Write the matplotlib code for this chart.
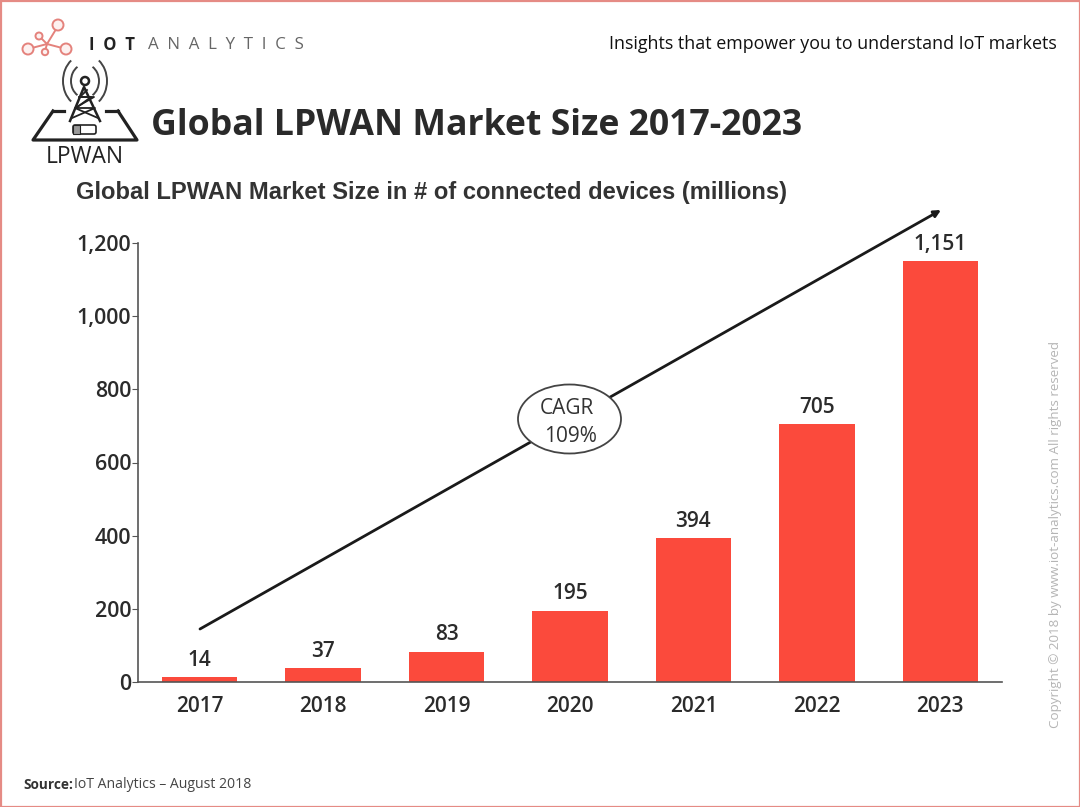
import matplotlib
matplotlib.use('Agg')
import matplotlib.pyplot as plt
from matplotlib.patches import Circle, Ellipse, Arc, Rectangle, FancyBboxPatch

years = ['2017', '2018', '2019', '2020', '2021', '2022', '2023']
devices = [14, 37, 83, 195, 394, 705, 1151]
value_labels = ['14', '37', '83', '195', '394', '705', '1,151']
y_ticks = [0, 200, 400, 600, 800, 1000, 1200]
y_tick_labels = ['0', '200', '400', '600', '800', '1,000', '1,200']

W, H = 1080, 807
RED = '#FB4A3C'
DARK = '#2b2b2b'

fig = plt.figure(figsize=(W / 100, H / 100), dpi=100, facecolor='white')

# chart axes, placed in pixel positions of the picture
ax = fig.add_axes([138 / W, 1 - 682 / H, (1002 - 138) / W, (682 - 243) / H])
ax.bar(range(len(years)), devices, width=0.61, color=RED, zorder=2)
ax.set_xlim(-0.5, 6.5)
ax.set_ylim(0, 1200)
ax.set_xticks(range(len(years)))
ax.set_xticklabels(years)
ax.set_yticks(y_ticks)
ax.set_yticklabels(y_tick_labels)
ax.spines['top'].set_visible(False)
ax.spines['right'].set_visible(False)
ax.spines['left'].set_color('#555555')
ax.spines['bottom'].set_color('#555555')
ax.spines['left'].set_linewidth(1.2)
ax.spines['bottom'].set_linewidth(1.2)
ax.tick_params(axis='x', length=0, pad=10)
ax.tick_params(axis='y', length=4, color='#555555', pad=1)
for lab in ax.get_xticklabels():
    lab.set_fontfamily('Open Sans')
    lab.set_fontweight('semibold')
    lab.set_fontsize(15)
    lab.set_color(DARK)
for lab in ax.get_yticklabels():
    lab.set_fontfamily('Open Sans')
    lab.set_fontweight('semibold')
    lab.set_fontsize(15.5)
    lab.set_color(DARK)
for i, lab in enumerate(value_labels):
    ax.annotate(lab, (i, devices[i]), xytext=(0, 4.5), textcoords='offset points',
                ha='center', va='bottom', fontsize=15, family='Open Sans',
                fontweight='semibold', color=DARK, clip_on=False)

# overlay in pixel coordinates for everything around the chart
ov = fig.add_axes([0, 0, 1, 1], facecolor='none')
ov.set_xlim(0, W)
ov.set_ylim(H, 0)
ov.axis('off')

ov.add_patch(Rectangle((0.5, 0.5), W - 1, H - 1, fill=False, ec='#E58B85', lw=1.6))

# CAGR arrow and bubble
ov.annotate('', xy=(941, 210), xytext=(200, 629),
            arrowprops=dict(arrowstyle='-|>', color='#1a1a1a', lw=2.0, mutation_scale=10,
                            shrinkA=0, shrinkB=0))
ov.add_patch(Ellipse((569.5, 419), 103, 69, fc='white', ec='#444444', lw=1.3, zorder=5))
ov.text(567, 408, 'CAGR', ha='center', va='center', fontsize=15, family='Open Sans',
        color='#333333', zorder=6)
ov.text(570, 437, '109%', ha='center', va='center', fontsize=15, family='Open Sans',
        color='#333333', zorder=6)

# header
ov.text(89, 45, 'I  O  T', ha='left', va='center', fontsize=12, family='Open Sans',
        fontweight='bold', color='#222222')
ov.text(148, 45, 'A  N  A  L  Y  T  I  C  S', ha='left', va='center', fontsize=12.2,
        family='Open Sans', color='#666666')
ov.text(1057, 44, 'Insights that empower you to understand IoT markets', ha='right',
        va='center', fontsize=12.9, family='Open Sans', fontweight='medium', color='#111111')
ov.text(151, 126, 'Global LPWAN Market Size 2017-2023', ha='left', va='center', fontsize=25.7,
        family='Open Sans', fontweight='bold', color='#2a2a2a')
ov.text(76, 192, 'Global LPWAN Market Size in # of connected devices (millions)', ha='left',
        va='center', fontsize=17.1, family='Liberation Sans', fontweight='bold', color='#333333')
ov.text(23, 785, 'Source:', ha='left', va='center', fontsize=9.8, family='Open Sans',
        fontweight='bold', color='#333333')
ov.text(74, 785, 'IoT Analytics \u2013 August 2018', ha='left', va='center', fontsize=10.1,
        family='Open Sans', color='#444444')
ov.text(1056, 534, 'Copyright \u00a9 2018 by www.iot-analytics.com All rights reserved',
        rotation=90, ha='center', va='center', fontsize=9.6, family='Open Sans', color='#b5b5b5')

# IoT Analytics network logo
logo_red = '#E4827C'
for x0, y0, x1, y1 in [(28, 49, 47, 44), (47, 44, 66, 49), (47, 44, 58, 26), (39, 36, 47, 44), (47, 44, 45, 51)]:
    ov.plot([x0, x1], [y0, y1], color=logo_red, lw=1.4)
for cx, cy, r in [(28, 49, 5.5), (66, 49, 5.5), (58, 25, 5.5), (39, 36, 3.5), (45, 52, 3.2)]:
    ov.add_patch(Circle((cx, cy), r, fc='#FDF1F0', ec=logo_red, lw=1.4, zorder=3))

# LPWAN tower logo
ic = '#222222'
ov.plot([53, 33, 137, 118], [111, 140, 140, 111], color=ic, lw=2.3)
ov.plot([53, 64], [111, 111], color=ic, lw=2.3)
ov.plot([106, 118], [111, 111], color=ic, lw=2.3)
ov.plot([70, 84, 100], [121, 87, 121], color=ic, lw=1.8)
ov.plot([72, 95, 76, 91, 80, 87], [118, 108, 108, 97, 97, 90], color=ic, lw=1.3)
ov.plot([98, 75, 94, 79], [118, 108, 97, 97], color=ic, lw=1.3)
ov.add_patch(Circle((85, 81), 4, fc='white', ec=ic, lw=1.8, zorder=3))
for r, w in [(14, 62), (22, 56)]:
    ov.add_patch(Arc((85, 81), 2 * r, 2 * r * 1.2, angle=0, theta1=180 - w, theta2=180 + w, ec='#444444', lw=1.4))
    ov.add_patch(Arc((85, 81), 2 * r, 2 * r * 1.2, angle=0, theta1=-w, theta2=w, ec='#444444', lw=1.4))
ov.add_patch(FancyBboxPatch((73, 125), 23, 9, boxstyle='round,pad=0,rounding_size=2', fc='white', ec=ic, lw=1.2))
ov.add_patch(Rectangle((73, 125), 7, 9, fc='#999999', ec=ic, lw=0.8))
ov.text(85, 157, 'LPWAN', ha='center', va='center', fontsize=16.4, family='Open Sans', color='#222222')

fig.savefig('out.png', dpi=100, facecolor='white')
